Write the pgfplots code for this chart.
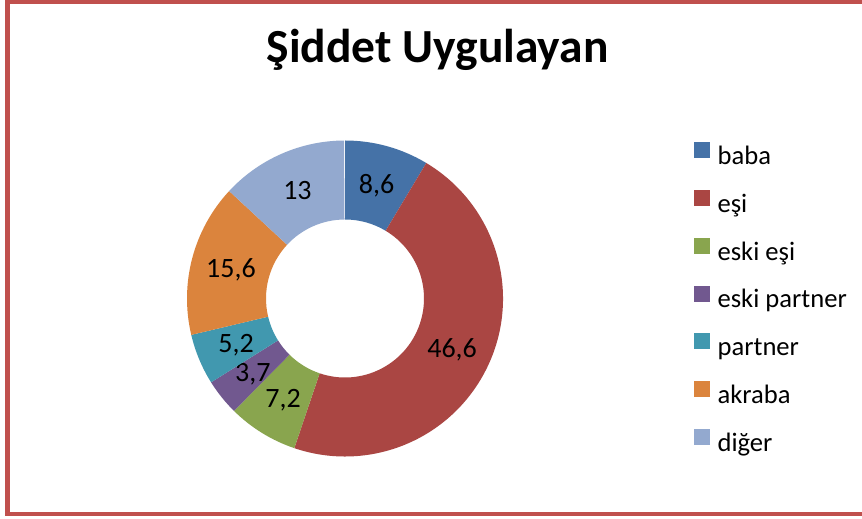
\documentclass[border=0pt]{standalone}
\usepackage{fontspec}
\setmainfont{Carlito}
\usepackage{pgfplots}
\pgfplotsset{compat=1.18}
\usepackage{pgfplotstable}

\definecolor{cbaba}{HTML}{4572A7}
\definecolor{cesi}{HTML}{AA4643}
\definecolor{ceskiesi}{HTML}{89A54E}
\definecolor{ceskipartner}{HTML}{71588F}
\definecolor{cpartner}{HTML}{4198AF}
\definecolor{cakraba}{HTML}{DB843D}
\definecolor{cdiger}{HTML}{93A9CF}
\definecolor{framered}{HTML}{C0504D}

% share of each perpetrator (percent), clockwise from 12 o'clock
\pgfplotstableread[col sep=comma]{
name,value,color
baba,8.6,cbaba
eşi,46.6,cesi
eski eşi,7.2,ceskiesi
eski partner,3.7,ceskipartner
partner,5.2,cpartner
akraba,15.6,cakraba
diğer,13,cdiger
}\shares

\begin{document}
\begin{tikzpicture}[x=1pt,y=1pt]
\useasboundingbox (0,0) rectangle (862,519);
\fill[white] (0,0) rectangle (862,519);
\begin{scope}
\clip (0,0) rectangle (862,519);
\draw[framered, line width=4.5pt] (900,516.8) -- (7.5,516.8) -- (7.5,5) -- (900,5);
\end{scope}

\node[anchor=base, font=\fontsize{47.5}{50}\selectfont\bfseries] at (437.5,456) {Şiddet Uygulayan};

\begin{axis}[
  at={(345pt,220.5pt)}, anchor=center,
  x=1pt, y=1pt, scale only axis,
  xmin=-160, xmax=160, ymin=-160, ymax=160,
  hide axis,
  legend cell align=left,
  legend image code/.code={\fill[#1] (0pt,0pt) rectangle (15pt,15pt);},
  legend style={
    draw=none, fill=none, inner sep=0pt,
    at={(1.5906,0.989)}, anchor=north west,
    font=\fontsize{26.6}{30}\selectfont,
    row sep=19.6pt,
    nodes={inner sep=0pt, text height=20pt, text depth=6pt},
    /tikz/every odd column/.append style={column sep=8pt},
  },
]
\pgfplotstablegetrowsof{\shares}
\pgfmathtruncatemacro\lastrow{\pgfplotsretval-1}
\def\angstart{90}
\pgfplotsforeachungrouped \i in {0,...,\lastrow}{
  \pgfplotstablegetelem{\i}{value}\of\shares \let\v\pgfplotsretval
  \pgfplotstablegetelem{\i}{color}\of\shares \let\c\pgfplotsretval
  \pgfplotstablegetelem{\i}{name}\of\shares \let\n\pgfplotsretval
  \pgfmathsetmacro\angend{\angstart-\v*3.6}
  \pgfmathsetmacro\angmid{(\angstart+\angend)/2}
  \edef\temp{%
    \noexpand\fill[\c] (axis cs:0,0) ++(\angstart:158pt)
      arc[start angle=\angstart, end angle=\angend, radius=158pt]
      -- ++(\angend:-79pt)
      arc[start angle=\angend, end angle=\angstart, radius=79pt] -- cycle;
    \noexpand\path (axis cs:0,0) ++(\angmid:118pt)
      node[anchor=base, yshift=-9pt, font=\noexpand\fontsize{28}{30}\noexpand\selectfont]
      {\noexpand\pgfmathprintnumber[use comma, assume math mode=true]{\v}};
    \noexpand\addlegendimage{\c}
    \noexpand\addlegendentry{\n}
  }\temp
  \let\angstart\angend
}
\end{axis}
\end{tikzpicture}
\end{document}
